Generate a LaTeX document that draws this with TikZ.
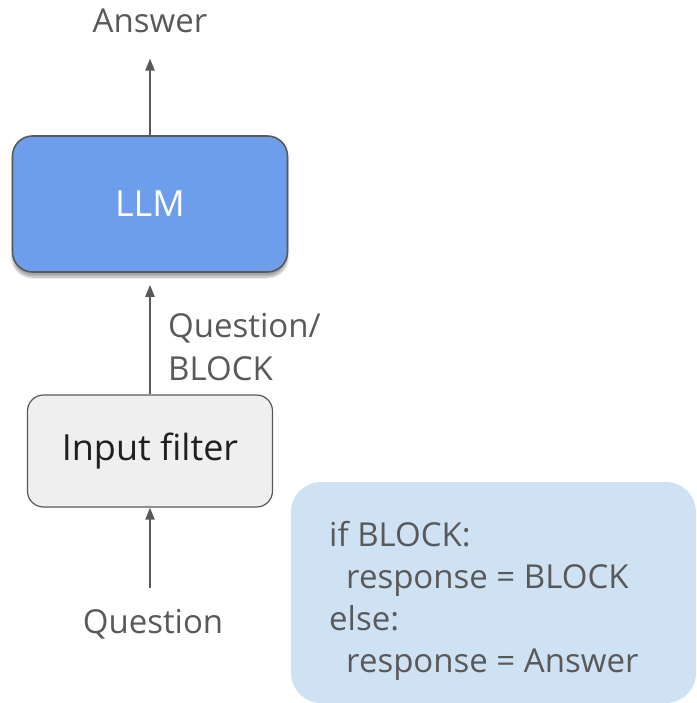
\documentclass[tikz,border=0pt]{standalone}
\usepackage{fontspec}
\setmainfont{Open Sans}
\usetikzlibrary{arrows.meta,shadows.blur}
\definecolor{ink}{HTML}{595959}
\definecolor{llmblue}{HTML}{6D9EEB}
\definecolor{filtgray}{HTML}{EFEFEF}
\definecolor{codeblue}{HTML}{CFE2F3}
\definecolor{darkink}{HTML}{202020}
\tikzset{
  lbl/.style={text=ink, font=\fontsize{33}{42}\selectfont, inner sep=3pt},
  flow/.style={draw=ink, line width=2pt, -{Triangle[length=12pt,width=9pt]}},
  llmbox/.style={draw=ink, line width=1.6pt, fill=llmblue, rounded corners=20pt,
    minimum width=275pt, minimum height=136pt, text=white,
    font=\fontsize{36}{40}\selectfont,
    blur shadow={shadow blur steps=10, shadow xshift=0pt, shadow yshift=-5pt, shadow opacity=35}},
  filterbox/.style={draw=ink, line width=1.2pt, fill=filtgray, rounded corners=16pt,
    minimum width=245pt, minimum height=112pt, text=darkink,
    font=\fontsize{36}{40}\selectfont},
}
\begin{document}
\begin{tikzpicture}[x=1pt,y=-1pt]
  \useasboundingbox (0,0) rectangle (696,703);
  % pseudo-code panel
  \fill[codeblue, rounded corners=30pt] (291,482) rectangle (696,703);
  \node[lbl, anchor=base west, align=left, font=\fontsize{33}{41.7}\selectfont] (code) at (326,672)
    {if BLOCK:\\\hspace*{17pt}response = BLOCK\\else:\\\hspace*{17pt}response = Answer};
  % blocks
  \node[llmbox] (llm) at (150,204) {LLM};
  \node[filterbox] (filt) at (150,451) {Input filter};
  % labels
  \node[lbl, anchor=base] (ans) at (150,33) {Answer};
  \node[lbl, anchor=base] (q) at (153,633) {Question};
  \node[lbl, anchor=base west, align=left, font=\fontsize{33}{43}\selectfont] (qb) at (165,380) {Question/\\BLOCK};
  % connectors
  \draw[flow, shorten >=22pt] (llm.north) -- (llm.north |- ans.south);
  \draw[flow, shorten >=12pt] (filt.north) -- (llm.south);
  \draw[flow, shorten <=18pt] (q.north -| filt.south) -- (filt.south);
\end{tikzpicture}
\end{document}
